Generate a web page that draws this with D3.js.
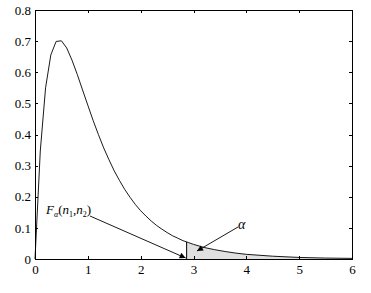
<!DOCTYPE html>
<html>
<head>
<meta charset="utf-8">
<script src="https://cdn.jsdelivr.net/npm/d3@7"></script>
<style>
  body { margin: 0; background: #fff; }
</style>
</head>
<body>
<div id="chart"></div>
<script>
const W = 371, H = 293;
const MARGIN = { LEFT: 35, RIGHT: 19, TOP: 10, BOTTOM: 34 };
const WIDTH = W - MARGIN.LEFT - MARGIN.RIGHT;
const HEIGHT = H - MARGIN.TOP - MARGIN.BOTTOM;
const FONT = "Liberation Serif, Times New Roman, serif";

// density curve
const xs = [0, 0.1, 0.2, 0.3, 0.4, 0.5, 0.6, 0.7, 0.8, 0.9, 1.0,
  1.1, 1.2, 1.3, 1.4, 1.5, 1.6, 1.7, 1.8, 1.9, 2.0,
  2.1, 2.2, 2.3, 2.4, 2.5, 2.6, 2.7, 2.8, 2.9, 3.0,
  3.2, 3.4, 3.6, 3.8, 4.0, 4.5, 5.0, 5.5, 6.0];
const ys = [0, 0.347, 0.550, 0.656, 0.699, 0.701, 0.678, 0.639, 0.593, 0.543, 0.494,
  0.445, 0.400, 0.357, 0.319, 0.283, 0.252, 0.223, 0.198, 0.175, 0.155,
  0.138, 0.122, 0.108, 0.096, 0.085, 0.075, 0.067, 0.059, 0.053, 0.047,
  0.037, 0.030, 0.024, 0.019, 0.015, 0.009, 0.005, 0.003, 0.002];
const critX = 2.87, critY = 0.055;
const xTicks = [0, 1, 2, 3, 4, 5, 6];
const yTicks = [0, 0.1, 0.2, 0.3, 0.4, 0.5, 0.6, 0.7, 0.8];

const pts = xs.map((x, i) => [x, ys[i]]);

const svg = d3.select("#chart").append("svg")
  .attr("width", W).attr("height", H)
  .attr("font-family", FONT);
const g = svg.append("g")
  .attr("transform", `translate(${MARGIN.LEFT}, ${MARGIN.TOP})`);

const x = d3.scaleLinear().domain([0, 6]).range([0, WIDTH]);
const y = d3.scaleLinear().domain([0, 0.8]).range([HEIGHT, 0]);

// shaded tail
const tail = [[critX, critY]].concat(pts.filter(p => p[0] > critX));
g.append("path")
  .datum(tail)
  .attr("fill", "#e0e0e0")
  .attr("stroke", "none")
  .attr("d", d3.area().x(d => x(d[0])).y0(y(0)).y1(d => y(d[1])));
g.append("line")
  .attr("x1", x(critX)).attr("x2", x(critX))
  .attr("y1", y(0)).attr("y2", y(critY))
  .attr("stroke", "#000").attr("stroke-width", 1);

// curve
g.append("path")
  .datum(pts)
  .attr("fill", "none")
  .attr("stroke", "#000")
  .attr("stroke-width", 0.9)
  .attr("d", d3.line().x(d => x(d[0])).y(d => y(d[1])));

// axes, ticks inward on all four sides
const styleAxis = sel => {
  sel.attr("font-family", FONT).attr("font-size", 13);
  sel.selectAll("path, line").attr("stroke", "#000").attr("shape-rendering", "crispEdges");
  sel.selectAll("text").attr("fill", "#000");
};
g.append("g").attr("transform", `translate(0, ${HEIGHT})`)
  .call(d3.axisBottom(x).tickValues(xTicks).tickFormat(d3.format("d"))
    .tickSizeInner(-3).tickSizeOuter(0).tickPadding(6))
  .call(styleAxis);
g.append("g")
  .call(d3.axisLeft(y).tickValues(yTicks).tickFormat(d => d === 0 ? "0" : d3.format(".1f")(d))
    .tickSizeInner(-3).tickSizeOuter(0).tickPadding(4))
  .call(styleAxis);
g.append("g")
  .call(d3.axisTop(x).tickValues(xTicks).tickFormat("")
    .tickSizeInner(-3).tickSizeOuter(0))
  .call(styleAxis);
g.append("g").attr("transform", `translate(${WIDTH}, 0)`)
  .call(d3.axisRight(y).tickValues(yTicks).tickFormat("")
    .tickSizeInner(-3).tickSizeOuter(0))
  .call(styleAxis);

// arrows
svg.append("defs").append("marker")
  .attr("id", "arr")
  .attr("viewBox", "0 0 10 10")
  .attr("refX", 10).attr("refY", 5)
  .attr("markerWidth", 10).attr("markerHeight", 6)
  .attr("markerUnits", "userSpaceOnUse")
  .attr("orient", "auto")
  .append("path").attr("d", "M0,0 L10,5 L0,10 Z").attr("fill", "#000");

const arrow = (x1, y1, x2, y2) => svg.append("line")
  .attr("x1", x1).attr("y1", y1).attr("x2", x2).attr("y2", y2)
  .attr("stroke", "#000").attr("stroke-width", 0.9)
  .attr("marker-end", "url(#arr)");
arrow(90, 216, MARGIN.LEFT + x(critX) - 1, MARGIN.TOP + y(0) - 1);
arrow(238, 227, 197, 251);

// labels
const fl = svg.append("text").attr("x", 46).attr("y", 214)
  .attr("font-size", 13).attr("font-style", "italic");
fl.append("tspan").text("F");
fl.append("tspan").attr("font-size", 8).attr("dy", 3).text("α");
fl.append("tspan").attr("dy", -3).attr("font-style", "normal").text("(");
fl.append("tspan").text("n");
fl.append("tspan").attr("font-size", 8).attr("dy", 3).attr("font-style", "normal").text("1");
fl.append("tspan").attr("dy", -3).attr("font-style", "normal").text(",");
fl.append("tspan").text("n");
fl.append("tspan").attr("font-size", 8).attr("dy", 3).attr("font-style", "normal").text("2");
fl.append("tspan").attr("dy", -3).attr("font-style", "normal").text(")");

svg.append("text").attr("x", 238).attr("y", 229)
  .attr("font-size", 14).attr("font-style", "italic").text("α");
</script>
</body>
</html>
